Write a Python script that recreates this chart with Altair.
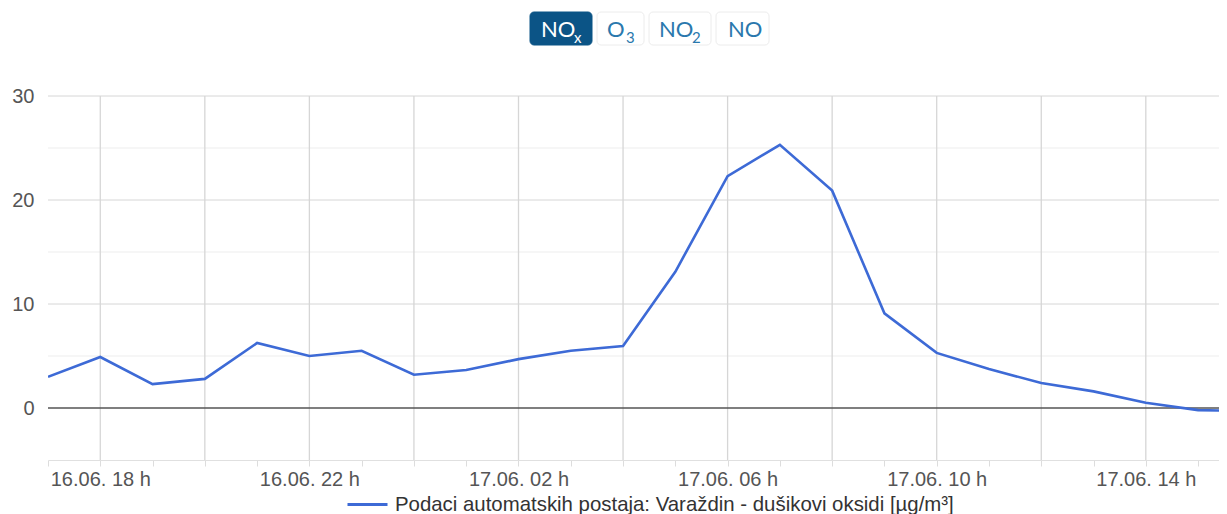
import altair as alt
import pandas as pd

# ---- data ----
times = [
    "2024-06-16T17:00", "2024-06-16T18:00", "2024-06-16T19:00", "2024-06-16T20:00",
    "2024-06-16T21:00", "2024-06-16T22:00", "2024-06-16T23:00", "2024-06-17T00:00",
    "2024-06-17T01:00", "2024-06-17T02:00", "2024-06-17T03:00", "2024-06-17T04:00",
    "2024-06-17T05:00", "2024-06-17T06:00", "2024-06-17T07:00", "2024-06-17T08:00",
    "2024-06-17T09:00", "2024-06-17T10:00", "2024-06-17T11:00", "2024-06-17T12:00",
    "2024-06-17T13:00", "2024-06-17T14:00", "2024-06-17T15:00", "2024-06-17T16:00",
]
values = [3.0, 4.9, 2.3, 2.8, 6.25, 5.0, 5.5, 3.2, 3.65, 4.7, 5.5, 5.95,
          13.1, 22.3, 25.3, 20.9, 9.1, 5.3, 3.75, 2.4, 1.6, 0.5, -0.2, -0.3]
series_name = "Podaci automatskih postaja: Varaždin - dušikovi oksidi [µg/m³]"
grid_times = [
    "2024-06-16T18:00", "2024-06-16T20:00", "2024-06-16T22:00", "2024-06-17T00:00",
    "2024-06-17T02:00", "2024-06-17T04:00", "2024-06-17T06:00", "2024-06-17T08:00",
    "2024-06-17T10:00", "2024-06-17T12:00", "2024-06-17T14:00",
]
y_major = [10, 20, 30]
y_minor = [5, 15, 25]
y_labels = [0, 10, 20, 30]
buttons = ["NO", "O", "NO", "NO"]
button_subs = ["x", "3", "2", ""]

df = pd.DataFrame({"t": times, "v": values, "s": [series_name] * len(times)})

W, H = 1171, 364
LINE_COLOR = "#3d6ad6"
FONT = "Liberation Sans"

x_scale = alt.Scale(domain=[alt.DateTime(year=2024, month=6, date=16, hours=17),
                            alt.DateTime(year=2024, month=6, date=17, hours=15, minutes=24)])
y_scale = alt.Scale(domain=[-5, 30], nice=False, zero=False)

hour_ticks = [alt.DateTime(year=2024, month=6, date=16 + (17 + h) // 24, hours=(17 + h) % 24)
              for h in range(23)]

x_axis = alt.Axis(
    title=None,
    values=hour_ticks,
    labelExpr="hours(datum.value) % 4 == 2 ? timeFormat(datum.value, '%d.%m. %H h') : ''",
    labelOverlap=False,
    labelFlush=False,
    labelFont=FONT, labelFontSize=20, labelColor="#555",
    labelPadding=3, grid=False,
    domainColor="#e0e0e0", tickColor="#dddddd", tickSize=6,
)
y_axis = alt.Axis(
    title=None, values=y_labels,
    domain=False, ticks=False, labelPadding=14, grid=False,
    labelFont=FONT, labelFontSize=20, labelColor="#555",
)

minor_grid = alt.Chart(pd.DataFrame({"g": y_minor})).mark_rule(color="#ededed", strokeWidth=1).encode(
    y=alt.Y("g:Q", scale=y_scale, axis=y_axis)
)
major_grid = alt.Chart(pd.DataFrame({"g": y_major})).mark_rule(color="#d6d6d6", strokeWidth=1).encode(
    y=alt.Y("g:Q", scale=y_scale)
)
v_grid = alt.Chart(pd.DataFrame({"t": grid_times})).mark_rule(color="#d6d6d6", strokeWidth=1.3).encode(
    x=alt.X("t:T", scale=x_scale, axis=x_axis)
)

line = alt.Chart(df).mark_line(strokeWidth=2.6, clip=True).encode(
    x=alt.X("t:T", scale=x_scale),
    y=alt.Y("v:Q", scale=y_scale),
    color=alt.Color("s:N", scale=alt.Scale(range=[LINE_COLOR]),
                    legend=alt.Legend(orient="none", legendX=298, legendY=387, title=None,
                                      symbolType="stroke", symbolStrokeWidth=3, symbolSize=1600,
                                      labelFont=FONT, labelFontSize=20.4, labelColor="#333",
                                      labelOffset=6, labelLimit=1000)),
)

zero = alt.Chart(pd.DataFrame({"z": [0]})).mark_rule(color="#555555", strokeWidth=1.5).encode(
    y=alt.Y("z:Q", scale=y_scale)
)

one = pd.DataFrame({"a": [0]})
layers = [minor_grid, major_grid, v_grid, zero, line]

# buttons (x from plot left = 48, y from plot top = 96)
boxes = [(482, 544), (549, 596), (601, 663), (668, 721)]
text_x = [493, 559, 611, 680]
sub_dx = [33, 19, 33, 0]
for i, (x0, x1) in enumerate(boxes):
    selected = i == 0
    layers.append(alt.Chart(one).mark_rect(
        cornerRadius=4,
        fill="#0b5486" if selected else "#ffffff",
        stroke="#0b5486" if selected else "#ececec", strokeWidth=1,
    ).encode(x=alt.value(x0), x2=alt.value(x1), y=alt.value(-84), y2=alt.value(-51)))
    col = "#ffffff" if selected else "#2a78ad"
    layers.append(alt.Chart(one).mark_text(
        align="left", baseline="middle", font="Lato", fontSize=22, color=col
    ).encode(x=alt.value(text_x[i]), y=alt.value(-66), text=alt.value(buttons[i])))
    if button_subs[i]:
        layers.append(alt.Chart(one).mark_text(
            align="left", baseline="middle", font="Lato", fontSize=15, color=col
        ).encode(x=alt.value(text_x[i] + sub_dx[i]), y=alt.value(-58), text=alt.value(button_subs[i])))

chart = alt.layer(*layers).properties(
    width=W, height=H,
    autosize=alt.AutoSizeParams(type="none"),
    padding={"left": 40, "top": 88, "right": 0, "bottom": 54},
).configure_view(stroke=None)

chart.save("out.html", embed_options={"renderer": "svg", "actions": False})
